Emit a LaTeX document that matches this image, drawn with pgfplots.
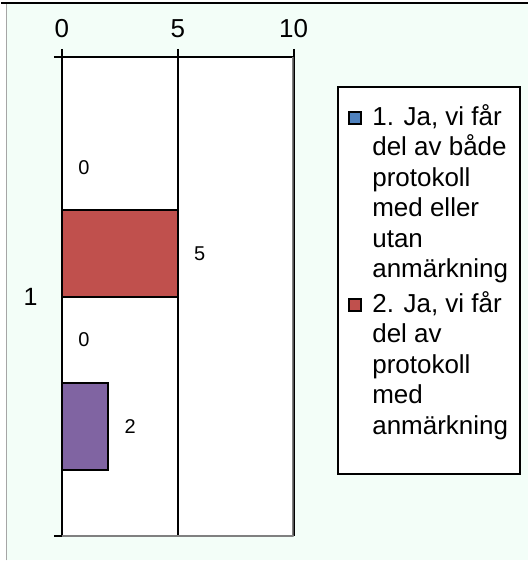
\documentclass[border=0pt]{standalone}
\usepackage{pgfplots}
\pgfplotsset{compat=1.18}
\usepackage{fontspec}
\setmainfont{Liberation Sans}
\definecolor{bg}{HTML}{F3FEF8}
\definecolor{s1}{HTML}{4F81BD}
\definecolor{s2}{HTML}{C0504D}
\definecolor{s3}{HTML}{9BBB59}
\definecolor{s4}{HTML}{8064A2}
\definecolor{bgray}{HTML}{808080}
\begin{document}
\begin{tikzpicture}[x=1pt,y=1pt]
\fill[white] (0,0) rectangle (528,561);
\fill[bg] (6,0) rectangle (528,557);
\draw[bgray!70, line width=1.2pt] (5.5,0) -- (5.5,557);
\draw[black, line width=2pt] (0,558) -- (528,558);
\begin{axis}[
  at={(61pt,24pt)}, anchor=south west,
  scale only axis, width=232pt, height=480pt,
  /pgf/number format/assume math mode=true,
  xbar, bar width=0.181,
  xmin=0, xmax=10, ymin=0.5, ymax=1.5,
  axis x line*=top, axis y line*=left,
  axis line style={black, line width=2.5pt},
  axis background/.style={fill=white},
  xtick={0,5,10},
  xticklabel pos=top,
  tick align=outside,
  major tick length=8pt,
  xtick style={black, line width=2pt},
  xticklabel style={font=\fontsize{26}{28}\selectfont, yshift=8pt},
  ytick={1}, yticklabels={1},
  ytick style={draw=none},
  yticklabel style={font=\fontsize{25}{28}\selectfont, xshift=-13pt},
  extra y ticks={0.5,1.5}, extra y tick labels={},
  extra y tick style={ytick style={draw=black, line width=2pt}, major tick length=8pt},
  xmajorgrids=true,
  grid style={black, line width=2pt},
  nodes near coords,
  every node near coord/.append style={font=\fontsize{20}{24}\selectfont, anchor=west, xshift=12pt, black},
  legend style={at={(1.1853,0.9396)}, anchor=north west, draw=black, line width=2.5pt, fill=white,
    font=\fontsize{26}{30.5}\selectfont, cells={anchor=north west, align=left, inner xsep=2pt, inner ysep=0pt},
    inner xsep=10pt, inner ysep=14pt, row sep=7pt, column sep=8pt},
  legend image code/.code={\draw[#1, draw=black, line width=2pt] (0pt,-23pt) rectangle (12.5pt,-10.5pt);},
]
\addplot[fill=s1, draw=black, line width=2pt, bar shift=0.27] coordinates {(0,1)};
\addlegendentry{1. Ja, vi får\\del av både\\protokoll\\med eller\\utan\\anmärkning}
\addplot[fill=s2, draw=black, line width=2pt, bar shift=0.09] coordinates {(5,1)};
\addlegendentry{2. Ja, vi får\\del av\\protokoll\\med\\anmärkning\\[-8pt]\strut}
\addplot[fill=s3, draw=black, line width=2pt, bar shift=-0.09, forget plot] coordinates {(0,1)};
\addplot[fill=s4, draw=black, line width=2pt, bar shift=-0.27, forget plot] coordinates {(2,1)};
\draw[bgray, line width=2.5pt] (rel axis cs:1,0) -- (rel axis cs:1,1);
\draw[bgray, line width=2.5pt] (rel axis cs:0,0) -- (rel axis cs:1,0);
\end{axis}
\end{tikzpicture}
\end{document}
